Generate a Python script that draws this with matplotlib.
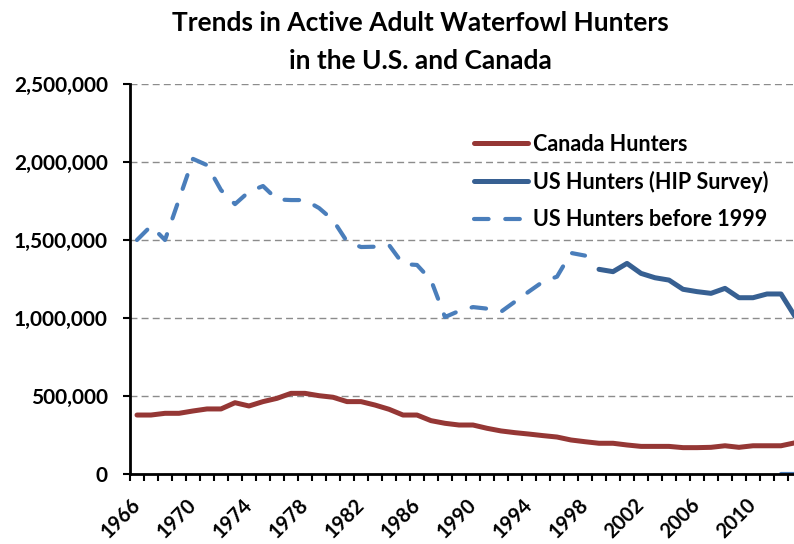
import matplotlib
matplotlib.use("Agg")
import matplotlib.pyplot as plt
import numpy as np
from matplotlib.ticker import FuncFormatter, MultipleLocator

# years on the category axis (chart is cropped on the right in the original)
years = list(range(1966, 2014))

canada_hunters = [378, 378, 389, 389, 404, 417, 417, 457, 436, 464, 485, 517,
                  517, 502, 492, 464, 464, 442, 415, 378, 378, 342, 325, 314,
                  314, 293, 276, 265, 256, 246, 237, 218, 207, 197, 197, 186,
                  177, 177, 177, 169, 169, 171, 181, 171, 181, 181, 181, 200]

# 1966-1998, then gap, then two stray zero values at the end of the sheet
us_before_1999 = [1500, 1590, 1500, 1760, 2020, 1980, 1820, 1730, 1810, 1846,
                  1760, 1756, 1756, 1705, 1628, 1490, 1455, 1457, 1468, 1346,
                  1340, 1243, 1006, 1045, 1070, 1060, 1040, 1105, 1170, 1233,
                  1265, 1417, 1400] + [np.nan] * 13 + [0, 0]

# HIP survey 1999-2013
us_hip = [np.nan] * 33 + [1312, 1297, 1350, 1286, 1258, 1243, 1184, 1169,
                          1158, 1190, 1130, 1130, 1154, 1154, 1010]

tick_years = years[::4]

plt.rcParams['font.family'] = ['Lato', 'DejaVu Sans']
plt.rcParams['font.weight'] = 'bold'

fig = plt.figure(figsize=(7.94, 5.44), dpi=100)
ax = fig.add_axes([130 / 794, 70 / 544, 672 / 794, 390 / 544])

x = np.arange(len(years))
ax.plot(x, np.array(canada_hunters) * 1000, color='#953735', lw=3.6,
        solid_capstyle='round', solid_joinstyle='round', label='Canada Hunters')
ax.plot(x, np.array(us_hip) * 1000, color='#376092', lw=3.6,
        solid_capstyle='round', solid_joinstyle='round',
        label='US Hunters (HIP Survey)')
ax.plot(x, np.array(us_before_1999) * 1000, color='#4a7ebb', lw=3.0,
        linestyle=(0, (3.5, 4.0)), dash_capstyle='round',
        dash_joinstyle='round', label='US Hunters before 1999')

ax.set_xlim(-0.5, len(years) - 0.5)
ax.set_ylim(0, 2500000)

ax.yaxis.set_major_locator(MultipleLocator(500000))
ax.yaxis.set_major_formatter(FuncFormatter(lambda v, p: f'{int(v):,}'))
ax.grid(axis='y', color='#8c8c8c', lw=1.0, linestyle=(0, (5, 3)))
ax.set_axisbelow(True)

ax.set_xticks(x[::4])
ax.set_xticklabels([str(y) for y in tick_years], rotation=45, ha='right',
                   va='center', rotation_mode='anchor')
ax.set_xticks(np.arange(-0.5, len(years)), minor=True)
ax.tick_params(axis='x', which='major', length=0, pad=20, labelsize=14.5)
ax.tick_params(axis='x', which='minor', length=5, width=1.5, direction='out')
ax.tick_params(axis='y', length=5, width=1.5, pad=11, labelsize=15)

for side in ['top', 'right']:
    ax.spines[side].set_visible(False)
for side in ['left', 'bottom']:
    ax.spines[side].set_linewidth(2)

fig.text(420 / 794, 1 - 42 / 544,
         'Trends in Active Adult Waterfowl Hunters\nin the U.S. and Canada',
         ha='center', va='center', fontsize=19, fontweight='bold',
         linespacing=1.7)

ax.legend(loc='center left', bbox_to_anchor=(474 / 794, 1 - 182 / 544),
          bbox_transform=fig.transFigure, frameon=False, borderpad=0,
          borderaxespad=0, handlelength=2.5, handletextpad=0.25,
          labelspacing=0.75, fontsize=15.5)

fig.savefig('out.png', dpi=100)
